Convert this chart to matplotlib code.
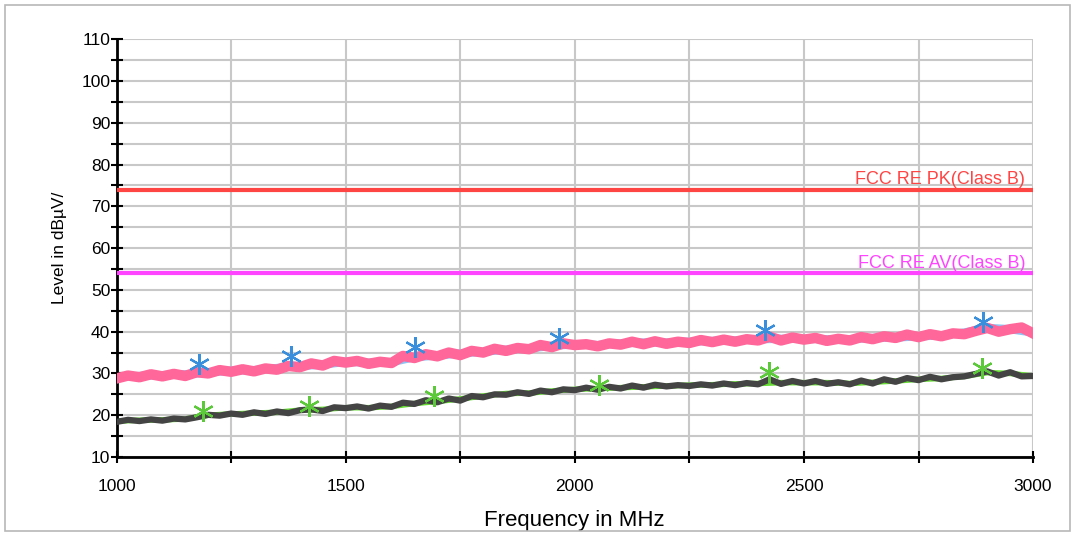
import numpy as np
import matplotlib.pyplot as plt
from matplotlib.patches import Rectangle
from matplotlib.ticker import MultipleLocator

plt.rcParams['font.family'] = ['Liberation Sans', 'DejaVu Sans']

# Frequency grid of the traces [MHz]
freq = np.arange(1000, 3001, 25)
freq_coarse = np.arange(1000, 3001, 50)

# Peak trace (pink) [dBuV]
peak = [28.8, 29.5, 29.1, 29.8, 29.3, 29.9, 29.4, 30.3, 30.0, 30.8,
        30.4, 31.0, 30.5, 31.2, 30.9, 31.8, 31.5, 32.4, 31.9, 33.0,
        32.6, 33.0, 32.3, 32.8, 32.5, 34.2, 33.7, 34.6, 34.1, 35.0,
        34.4, 35.4, 35.0, 35.9, 35.4, 36.1, 35.8, 36.8, 36.3, 37.2,
        36.8, 37.0, 36.5, 37.2, 36.9, 37.6, 37.0, 37.7, 37.1, 37.6,
        37.3, 38.0, 37.5, 38.1, 37.6, 38.2, 37.9, 38.8, 37.9, 38.6,
        38.1, 38.5, 37.8, 38.3, 37.9, 38.7, 38.2, 38.9, 38.5, 39.3,
        38.7, 39.4, 38.9, 39.6, 39.4, 40.2, 40.9, 40.0, 40.6, 41.0,
        39.6]

# Peak pre-scan (light blue, mostly hidden below pink)
peak_pre = [29.1, 29.4, 29.6, 29.8, 30.2, 30.7, 30.8, 31.3, 31.8, 32.1,
            32.8, 32.6, 32.7, 33.9, 34.3, 34.8, 35.2, 35.7, 36.0, 36.6,
            37.0, 36.8, 37.2, 37.4, 37.4, 37.6, 37.8, 37.9, 38.2, 38.3,
            38.3, 38.2, 38.2, 38.5, 38.6, 38.9, 39.1, 39.8, 40.9, 40.6,
            39.8]

# Average trace (dark gray) [dBuV]
avg = [18.4, 18.9, 18.6, 19.0, 18.7, 19.2, 19.0, 19.5, 20.1, 19.9,
       20.4, 20.1, 20.7, 20.3, 20.9, 20.5, 21.2, 21.4, 21.0, 21.9,
       21.7, 22.1, 21.6, 22.3, 22.0, 23.0, 22.7, 23.6, 23.1, 24.0,
       23.5, 24.6, 24.3, 25.0, 24.9, 25.5, 25.1, 25.9, 25.5, 26.2,
       26.0, 26.6, 26.1, 26.8, 26.4, 27.1, 26.6, 27.3, 26.9, 27.2,
       27.0, 27.4, 27.1, 27.6, 27.2, 27.7, 27.4, 28.6, 27.5, 28.2,
       27.6, 28.2, 27.5, 27.9, 27.4, 28.3, 27.6, 28.6, 28.0, 28.9,
       28.4, 29.2, 28.6, 29.1, 29.3, 29.9, 30.5, 29.5, 30.3, 29.3,
       29.4]

# Average pre-scan (green, mostly hidden below gray)
avg_pre = [18.6, 18.8, 18.9, 19.1, 20.0, 20.3, 20.5, 20.7, 21.2, 21.4,
           21.8, 21.8, 22.1, 22.8, 23.3, 23.9, 24.6, 25.2, 25.3, 25.8,
           26.2, 26.4, 26.6, 26.8, 27.0, 27.2, 27.3, 27.5, 27.6, 27.8,
           27.8, 27.8, 27.6, 27.9, 28.2, 28.6, 28.8, 29.3, 30.2, 30.0,
           29.4]

# Final measurement points
pk_f = [1180, 1380, 1652, 1965, 2415, 2890]
pk_lvl = [32.3, 34.2, 36.3, 38.5, 40.4, 42.4]
av_f = [1188, 1419, 1692, 2053, 2424, 2889]
av_lvl = [21.0, 22.2, 24.6, 27.2, 30.3, 31.3]

# Limits
lim_pk, lim_av = 74, 54

fig = plt.figure(figsize=(10.75, 5.34), dpi=100)
fig.patches.append(Rectangle((0.005, 0.006), 0.99, 0.984, transform=fig.transFigure,
                             fill=False, edgecolor='#b8b8b8', linewidth=1.2))
ax = fig.add_axes([0.1084, 0.1442, 0.8526, 0.7822])

grid_col = '#c8c8c8'
ax.set_xlim(1000, 3000)
ax.set_ylim(10, 110)
ax.xaxis.set_major_locator(MultipleLocator(500))
ax.xaxis.set_minor_locator(MultipleLocator(250))
ax.yaxis.set_major_locator(MultipleLocator(10))
ax.yaxis.set_minor_locator(MultipleLocator(5))
ax.grid(which='both', color=grid_col, linewidth=1.5, zorder=0)
ax.set_axisbelow(True)

for s in ['top', 'right']:
    ax.spines[s].set_visible(False)
for s in ['left', 'bottom']:
    ax.spines[s].set_linewidth(2)
ax.tick_params(which='both', direction='inout', length=9, width=1.5, labelsize=12.5)
ax.tick_params(axis='y', pad=0)
ax.tick_params(axis='x', pad=11)

ax.plot(freq_coarse, peak_pre, color='#8cc4f4', linewidth=6, zorder=2)
ax.plot(freq, peak, color='#ff6699', linewidth=7.5, zorder=3)
ax.plot(freq_coarse, avg_pre, color='#66dd33', linewidth=4, zorder=2)
ax.plot(freq, avg, color='#444444', linewidth=4.5, zorder=3)

ax.axhline(lim_pk, color='#ff4444', linewidth=3, zorder=4)
ax.axhline(lim_av, color='#ff44ff', linewidth=3, zorder=4)
ax.text(2983, lim_pk + 0.4, 'FCC RE PK(Class B)', color='#ff4444', fontsize=13,
        ha='right', va='bottom', zorder=5)
ax.text(2983, lim_av + 0.4, 'FCC RE AV(Class B)', color='#ff44ff', fontsize=13,
        ha='right', va='bottom', zorder=5)

ax.plot(pk_f, pk_lvl, linestyle='none', marker=(6, 2, 0), markersize=15,
        markeredgewidth=1.6, color='#3a8fdc', zorder=6)
ax.plot(av_f, av_lvl, linestyle='none', marker=(6, 2, 0), markersize=15,
        markeredgewidth=1.6, color='#5cc93a', zorder=6)

ax.set_xlabel('Frequency in MHz', fontsize=16, labelpad=12)
ax.set_ylabel('Level in dBµV/', fontsize=12.5, labelpad=10)

fig.savefig('out.png', dpi=100)
